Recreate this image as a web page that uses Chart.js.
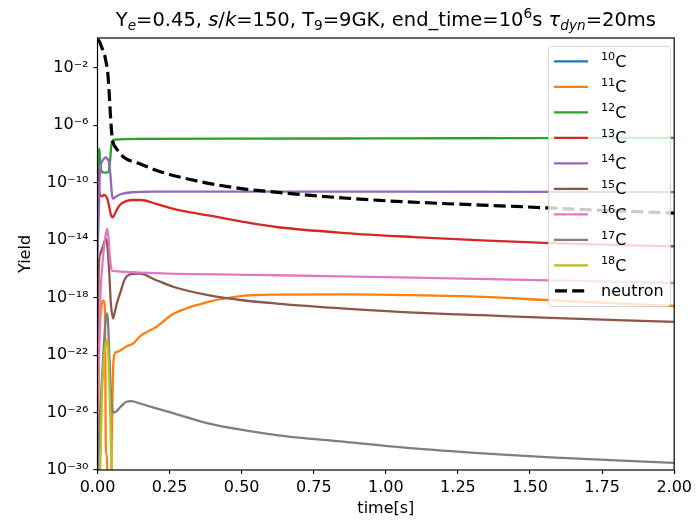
<!DOCTYPE html>
<html>
<head>
<meta charset="utf-8">
<script src="https://cdn.jsdelivr.net/npm/chart.js@4.4.1/dist/chart.umd.min.js"></script>
<style>
  html, body { margin: 0; padding: 0; background: #ffffff; }
  #wrap { width: 696px; height: 520px; }
</style>
</head>
<body>
<div id="wrap"><canvas id="chart" width="696" height="520"></canvas></div>
<script>
// Carbon isotope yields versus time (log10 of the yield at each sampled time)
const massNumbers = ['10', '11', '12', '13', '14', '15', '16', '17', '18'];

const tC10 = [0, 2.0];
const lgC10 = [-40, -40];

const tC11 = [0, 0.005, 0.012, 0.02, 0.025, 0.027, 0.029, 0.033, 0.035, 0.047, 0.05, 0.054, 0.06, 0.072, 0.1, 0.123, 0.147, 0.204, 0.265, 0.384, 0.503, 0.621, 0.859, 1.097, 1.334, 1.571, 2.0];
const lgC11 = [-31, -22, -19, -18.2, -18.5, -22, -28.9, -28.9, -31.5, -31.5, -27, -23, -21.9, -21.75, -21.4, -21.2, -20.7, -20.04, -19.11, -18.3, -17.88, -17.79, -17.77, -17.83, -17.95, -18.18, -18.58];

const tC12 = [0, 0.003, 0.006, 0.009, 0.013, 0.025, 0.038, 0.043, 0.048, 0.053, 0.06, 0.15, 0.5, 1.0, 1.5, 2.0];
const lgC12 = [-10.3, -8.3, -7.6, -8.4, -9.2, -9.3, -9.25, -8.6, -7.4, -7.05, -7.0, -6.94, -6.93, -6.91, -6.89, -6.87];

const tC13 = [0, 0.004, 0.01, 0.016, 0.022, 0.028, 0.034, 0.04, 0.046, 0.052, 0.057, 0.065, 0.08, 0.1, 0.12, 0.15, 0.2, 0.25, 0.3, 0.384, 0.5, 0.621, 0.859, 1.097, 1.334, 1.571, 2.0];
const lgC13 = [-9.0, -10.2, -10.9, -10.95, -10.85, -10.9, -11.1, -11.6, -12.2, -12.4, -12.3, -11.95, -11.5, -11.28, -11.2, -11.2, -11.45, -11.75, -11.98, -12.27, -12.7, -13.08, -13.5, -13.78, -14.01, -14.2, -14.43];

const tC14 = [0, 0.004, 0.008, 0.014, 0.02, 0.028, 0.035, 0.04, 0.045, 0.05, 0.054, 0.065, 0.08, 0.12, 0.2, 1.0, 2.0];
const lgC14 = [-15, -12.5, -9.5, -8.6, -8.4, -8.24, -8.35, -8.6, -9.5, -10.8, -11.1, -10.95, -10.8, -10.66, -10.62, -10.62, -10.65];

const tC15 = [0, 0.004, 0.01, 0.018, 0.025, 0.029, 0.034, 0.04, 0.046, 0.054, 0.06, 0.07, 0.078, 0.095, 0.11, 0.147, 0.2, 0.265, 0.384, 0.503, 0.621, 0.859, 1.097, 1.334, 1.571, 2.0];
const lgC15 = [-24, -16, -14.93, -14.5, -14.05, -13.9, -14.3, -16.0, -18.3, -19.45, -19.0, -18.2, -17.72, -16.7, -16.4, -16.33, -16.75, -17.26, -17.83, -18.18, -18.41, -18.76, -19.04, -19.22, -19.41, -19.69];

const tC16 = [0, 0.01, 0.02, 0.027, 0.031, 0.034, 0.038, 0.043, 0.048, 0.052, 0.1, 0.147, 0.621, 1.097, 1.571, 2.0];
const lgC16 = [-26, -18, -15, -13.8, -13.4, -13.2, -13.8, -15.2, -16.0, -16.14, -16.2, -16.26, -16.44, -16.6, -16.79, -16.98];

const tC17 = [0, 0.005, 0.011, 0.02, 0.028, 0.032, 0.036, 0.04, 0.045, 0.05, 0.057, 0.08, 0.1, 0.118, 0.147, 0.265, 0.384, 0.621, 0.859, 1.097, 1.334, 1.571, 2.0];
const lgC17 = [-32, -28, -25.3, -22, -19.6, -19.1, -19.5, -21.5, -24, -25.6, -26.0, -25.6, -25.25, -25.2, -25.37, -26.06, -26.76, -27.57, -28.04, -28.5, -28.84, -29.12, -29.5];

const tC18 = [0, 0.009, 0.015, 0.022, 0.028, 0.032, 0.037, 0.043, 0.05, 0.06, 2.0];
const lgC18 = [-34, -30.2, -25, -22.3, -21.2, -21.0, -21.6, -25.2, -31, -35, -36];

const tNeutron = [0, 0.005, 0.015, 0.025, 0.03, 0.035, 0.04, 0.045, 0.05, 0.055, 0.065, 0.09, 0.147, 0.205, 0.25, 0.35, 0.5, 0.6, 0.74, 0.98, 1.215, 1.45, 1.69, 2.0];
const lgNeutron = [-0.05, -0.1, -0.59, -1.14, -1.63, -2.19, -3.58, -5.32, -6.7, -7.26, -7.6, -8.2, -8.68, -9.14, -9.42, -9.9, -10.41, -10.62, -10.88, -11.23, -11.46, -11.65, -11.87, -12.11];

const xTickValues = [0, 0.25, 0.5, 0.75, 1.0, 1.25, 1.5, 1.75, 2.0];
const yTickExponents = [-2, -6, -10, -14, -18, -22, -26, -30];

const isotopeTimes = [tC10, tC11, tC12, tC13, tC14, tC15, tC16, tC17, tC18];
const isotopeLogs = [lgC10, lgC11, lgC12, lgC13, lgC14, lgC15, lgC16, lgC17, lgC18];

// Styling
const palette = ['#1f77b4', '#ff7f0e', '#2ca02c', '#d62728', '#9467bd', '#8c564b', '#e377c2', '#7f7f7f', '#bcbd22'];
const FONT = '"DejaVu Sans", "Liberation Sans", sans-serif';
const BASE = 16;

function toPoints(times, logs) {
  return times.map((t, i) => ({ x: t, y: Math.pow(10, logs[i]) }));
}

const datasets = massNumbers.map((a, i) => ({
  label: a + 'C',
  data: toPoints(isotopeTimes[i], isotopeLogs[i]),
  borderColor: palette[i],
  borderWidth: 2.3,
  order: 20 - i
}));
datasets.push({
  label: 'neutron',
  data: toPoints(tNeutron, lgNeutron),
  borderColor: '#000000',
  borderWidth: 3.2,
  borderDash: [12, 5.2],
  order: 0
});

const SUP = { '-': '\u207B', '0': '\u2070', '1': '\u00B9', '2': '\u00B2', '3': '\u00B3', '4': '\u2074', '5': '\u2075', '6': '\u2076', '7': '\u2077', '8': '\u2078', '9': '\u2079' };
function powerLabel(v) {
  const e = Math.round(Math.log10(v));
  return '10' + String(e).split('').map(c => SUP[c]).join('');
}

// Mixed text with sub/superscripts and italics
function segFont(s, size) {
  const sz = (s.sub || s.sup) ? size * 0.7 : size;
  return (s.it ? 'italic ' : '') + sz + 'px ' + FONT;
}
function richWidth(ctx, segs, size) {
  let w = 0;
  for (const s of segs) { ctx.font = segFont(s, size); w += ctx.measureText(s.t).width; }
  return w;
}
function drawRich(ctx, segs, x, baseline, size, align) {
  let cx = align === 'center' ? x - richWidth(ctx, segs, size) / 2 : x;
  ctx.textBaseline = 'alphabetic';
  ctx.textAlign = 'left';
  for (const s of segs) {
    ctx.font = segFont(s, size);
    let dy = 0;
    if (s.sub) dy = size * 0.22;
    if (s.sup) dy = -size * 0.42;
    ctx.fillText(s.t, cx, baseline + dy);
    cx += ctx.measureText(s.t).width;
  }
}

const titleSegs = [
  { t: 'Y' }, { t: 'e', it: true, sub: true }, { t: '=0.45, ' },
  { t: 's', it: true }, { t: '/' }, { t: 'k', it: true }, { t: '=150, T' },
  { t: '9', sub: true }, { t: '=9GK, end_time=10' }, { t: '6', sup: true },
  { t: 's ' }, { t: '\u03C4', it: true }, { t: 'dyn', it: true, sub: true }, { t: '=20ms' }
];

const decorations = {
  id: 'decorations',
  afterDatasetsDraw(chart) {
    const ctx = chart.ctx;
    const a = chart.chartArea;
    ctx.save();
    // axes frame
    ctx.strokeStyle = '#000000';
    ctx.lineWidth = 1.2;
    ctx.setLineDash([]);
    ctx.strokeRect(a.left, a.top, a.right - a.left, a.bottom - a.top);

    // legend box
    const lx = 548.5, ly = 46.5, lw = 122, lh = 260, r = 3;
    ctx.beginPath();
    ctx.moveTo(lx + r, ly);
    ctx.arcTo(lx + lw, ly, lx + lw, ly + lh, r);
    ctx.arcTo(lx + lw, ly + lh, lx, ly + lh, r);
    ctx.arcTo(lx, ly + lh, lx, ly, r);
    ctx.arcTo(lx, ly, lx + lw, ly, r);
    ctx.closePath();
    ctx.fillStyle = 'rgba(255,255,255,0.8)';
    ctx.fill();
    ctx.strokeStyle = 'rgba(204,204,204,0.8)';
    ctx.lineWidth = 1;
    ctx.stroke();

    ctx.fillStyle = '#000000';
    chart.data.datasets.forEach((ds, i) => {
      const rowY = 61.3 + 25.5 * i;
      ctx.beginPath();
      ctx.strokeStyle = ds.borderColor;
      ctx.lineWidth = ds.borderWidth;
      if (ds.borderDash) {
        ctx.setLineDash(ds.borderDash);
        ctx.moveTo(555, rowY);
        ctx.lineTo(585, rowY);
      } else {
        ctx.setLineDash([]);
        ctx.moveTo(554, rowY);
        ctx.lineTo(588, rowY);
      }
      ctx.stroke();
      ctx.setLineDash([]);
      ctx.fillStyle = '#000000';
      if (i < massNumbers.length) {
        drawRich(ctx, [{ t: massNumbers[i], sup: true }, { t: 'C' }], 601, rowY + 5.6, BASE, 'left');
      } else {
        drawRich(ctx, [{ t: ds.label }], 601, rowY + 5.6, BASE, 'left');
      }
    });

    // title
    ctx.fillStyle = '#000000';
    drawRich(ctx, titleSegs, (a.left + a.right) / 2, 26, 19.5, 'center');
    ctx.restore();
  }
};

new Chart(document.getElementById('chart'), {
  type: 'line',
  data: { datasets },
  options: {
    responsive: false,
    animation: false,
    devicePixelRatio: 1,
    layout: { padding: { left: 0, right: 18, top: 38, bottom: 0 } },
    elements: {
      point: { radius: 0, hoverRadius: 0 },
      line: { cubicInterpolationMode: 'monotone', borderJoinStyle: 'round', fill: false }
    },
    plugins: {
      legend: { display: false },
      tooltip: { enabled: false },
      title: { display: false }
    },
    scales: {
      x: {
        type: 'linear',
        min: 0,
        max: 2,
        afterFit(scale) { scale.height = 50; },
        afterBuildTicks(scale) { scale.ticks = xTickValues.map(v => ({ value: v })); },
        ticks: {
          autoSkip: false,
          maxRotation: 0,
          padding: 4,
          color: '#000000',
          font: { family: FONT, size: BASE },
          callback: v => Number(v).toFixed(2)
        },
        grid: { drawOnChartArea: false, drawTicks: true, tickLength: 4, color: '#000000', lineWidth: 1.1 },
        border: { display: false },
        title: { display: true, text: 'time[s]', color: '#000000', font: { family: FONT, size: BASE }, padding: { top: 0, bottom: 2 } }
      },
      y: {
        type: 'logarithmic',
        min: 1e-30,
        max: 1.2,
        afterFit(scale) { scale.width = 97.5; },
        afterBuildTicks(scale) { scale.ticks = yTickExponents.map(e => ({ value: Math.pow(10, e) })); },
        ticks: {
          autoSkip: false,
          padding: 5,
          color: '#000000',
          font: { family: FONT, size: BASE },
          callback: v => powerLabel(v)
        },
        grid: { drawOnChartArea: false, drawTicks: true, tickLength: 4, color: '#000000', lineWidth: 1.1 },
        border: { display: false },
        title: { display: true, text: 'Yield', color: '#000000', font: { family: FONT, size: BASE }, padding: { top: 16, bottom: 0 } }
      }
    }
  },
  plugins: [decorations]
});
</script>
</body>
</html>
